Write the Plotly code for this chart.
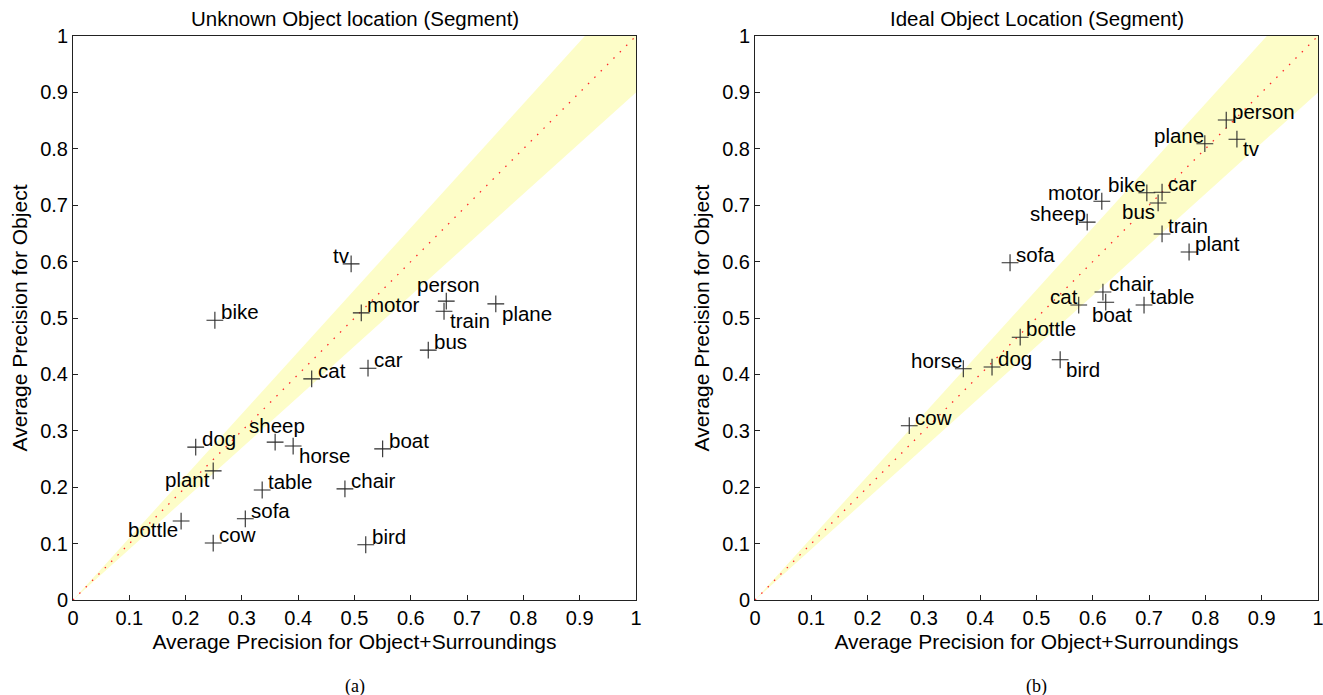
import plotly.graph_objects as go

# ---------------- data ----------------
categories_a = ["tv", "bike", "motor", "person", "train", "plane", "bus", "car", "cat", "sheep",
                "horse", "dog", "boat", "plant", "table", "chair", "sofa", "bottle", "cow", "bird"]
x_a = [0.494, 0.252, 0.512, 0.663, 0.659, 0.751, 0.631, 0.524, 0.424, 0.359,
       0.391, 0.218, 0.550, 0.249, 0.336, 0.483, 0.306, 0.192, 0.249, 0.520]
y_a = [0.596, 0.496, 0.509, 0.530, 0.512, 0.525, 0.443, 0.411, 0.392, 0.280,
       0.273, 0.271, 0.268, 0.229, 0.195, 0.197, 0.144, 0.140, 0.101, 0.098]
pos_a = ["top left", "top right", "top right", "top center", "bottom right", "bottom right",
         "top right", "top right", "top right", "top center", "bottom right", "top right",
         "top right", "bottom left", "top right", "top right", "top right", "bottom left",
         "top right", "top right"]

categories_b = ["person", "tv", "plane", "bike", "car", "bus", "motor", "sheep", "train", "plant",
                "sofa", "chair", "cat", "boat", "table", "bottle", "horse", "dog", "bird", "cow"]
x_b = [0.837, 0.856, 0.799, 0.696, 0.723, 0.716, 0.616, 0.590, 0.723, 0.771,
       0.453, 0.618, 0.575, 0.623, 0.691, 0.471, 0.370, 0.421, 0.542, 0.274]
y_b = [0.851, 0.817, 0.809, 0.722, 0.723, 0.704, 0.707, 0.670, 0.649, 0.617,
       0.598, 0.546, 0.523, 0.528, 0.523, 0.466, 0.410, 0.413, 0.426, 0.309]
pos_b = ["top right", "bottom right", "top left", "top left", "top right", "bottom left",
         "top left", "top left", "top right", "top right", "top right", "top right",
         "top left", "bottom center", "top right", "top right", "top left", "top right",
         "bottom right", "top right"]

tick_vals = [0, 0.1, 0.2, 0.3, 0.4, 0.5, 0.6, 0.7, 0.8, 0.9, 1]
tick_text = ["0", "0.1", "0.2", "0.3", "0.4", "0.5", "0.6", "0.7", "0.8", "0.9", "1"]
band_fraction = 0.1
titles = ["Unknown Object location (Segment)", "Ideal Object Location (Segment)"]
captions = ["(a)", "(b)"]
xlabel = "Average Precision for Object+Surroundings"
ylabel = "Average Precision for Object"

# ---------------- style ----------------
FONT = "Liberation Sans, Arial, Helvetica, sans-serif"
LABEL_SIZE = 20.5
# label placement: (xanchor, yanchor, xshift, yshift) in pixels
placement = {
    "top right": ("left", "bottom", 5, -4),
    "bottom right": ("left", "top", 5, 3),
    "top left": ("right", "bottom", 0, -4),
    "bottom left": ("right", "top", -2, 4),
    "top center": ("center", "bottom", 2, 4),
    "bottom center": ("center", "top", 6, 0),
}

W, H = 1323, 695
ML, MR, MT, MB = 0, 0, 0, 0
pw, ph = W - ML - MR, H - MT - MB


def px_x(px):
    return (px - ML) / pw


def px_y(py):
    return 1 - (py - MT) / ph


fig = go.Figure()
domains = [[px_x(73), px_x(636)], [px_x(755), px_x(1318)]]
ydom = [px_y(600), px_y(36)]

panels = [(x_a, y_a, categories_a, pos_a), (x_b, y_b, categories_b, pos_b)]
for i, (xs, ys, cats, pos) in enumerate(panels):
    xa = "x" if i == 0 else "x2"
    ya = "y" if i == 0 else "y2"
    # band
    fig.add_trace(go.Scatter(
        x=[0, 1, 1, 0], y=[0, 1 + band_fraction, 1 - band_fraction, 0],
        fill="toself", fillcolor="rgb(253,253,200)", mode="none",
        hoverinfo="skip", showlegend=False, xaxis=xa, yaxis=ya))
    # diagonal
    fig.add_trace(go.Scatter(
        x=[0, 1], y=[0, 1], mode="lines",
        line=dict(color="rgb(255,40,40)", width=1.3, dash="1.5px,7.5px"),
        hoverinfo="skip", showlegend=False, xaxis=xa, yaxis=ya))
    # points
    fig.add_trace(go.Scatter(
        x=xs, y=ys, mode="markers",
        marker=dict(symbol="cross-thin", size=12, line=dict(color="#2a2a2a", width=1.1)),
        showlegend=False, xaxis=xa, yaxis=ya, cliponaxis=False))
    # labels
    for xv, yv, t, p in zip(xs, ys, cats, pos):
        xan, yan, dx, dy = placement[p]
        fig.add_annotation(x=xv, y=yv, xref=xa, yref=ya, text=t, showarrow=False,
                           xanchor=xan, yanchor=yan, xshift=dx, yshift=dy, borderpad=0,
                           font=dict(family=FONT, size=LABEL_SIZE, color="black"))

axis_common = dict(range=[0, 1], tickvals=tick_vals, ticktext=tick_text,
                   showgrid=False, zeroline=False, showline=True, mirror=True,
                   linecolor="#222222", linewidth=1, ticks="inside", ticklen=5,
                   tickcolor="#222222", tickfont=dict(family=FONT, size=20, color="black"),
                   automargin=False, ticklabeloverflow="allow")
title_font = dict(family=FONT, size=21, color="black")

fig.update_layout(
    width=W, height=H,
    margin=dict(l=ML, r=MR, t=MT, b=MB),
    paper_bgcolor="white", plot_bgcolor="white",
    xaxis=dict(domain=domains[0], anchor="y", **axis_common,
               title=dict(text=xlabel, font=title_font, standoff=6)),
    yaxis=dict(domain=ydom, anchor="x", **axis_common,
               title=dict(text=ylabel, font=title_font, standoff=6)),
    xaxis2=dict(domain=domains[1], anchor="y2", **axis_common,
                title=dict(text=xlabel, font=title_font, standoff=6)),
    yaxis2=dict(domain=ydom, anchor="x2", **axis_common,
                title=dict(text=ylabel, font=title_font, standoff=6)),
)

for i in range(2):
    cx = (domains[i][0] + domains[i][1]) / 2
    fig.add_annotation(text=titles[i], x=cx, y=px_y(18), xref="paper", yref="paper",
                       showarrow=False, font=dict(family=FONT, size=20.5, color="black"),
                       xanchor="center", yanchor="middle")
    fig.add_annotation(text=captions[i], x=cx, y=px_y(686), xref="paper", yref="paper",
                       showarrow=False, font=dict(family="Liberation Serif, Times New Roman, serif",
                                                  size=18, color="black"),
                       xanchor="center", yanchor="middle")

fig.write_html("out.html")
